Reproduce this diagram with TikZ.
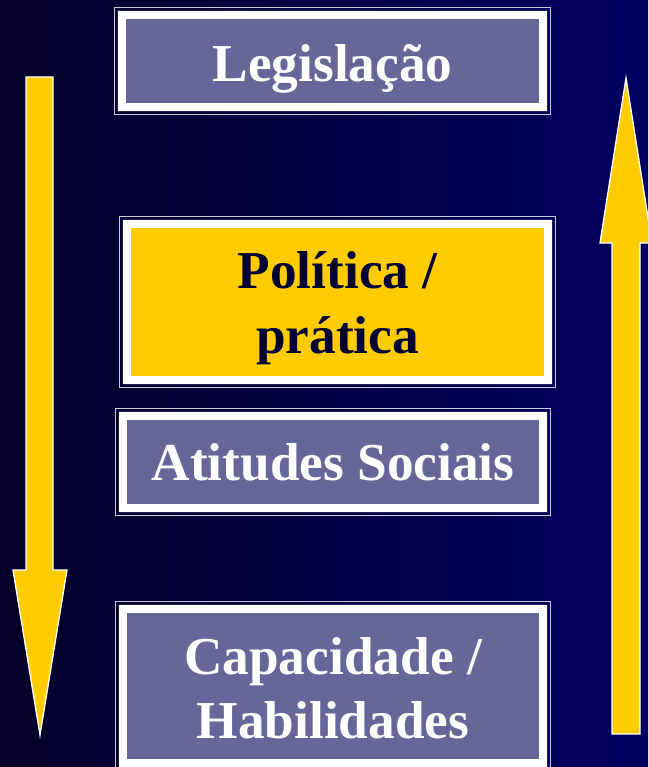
\documentclass[tikz,border=0pt]{standalone}
\usepackage{fontspec}
\setmainfont{Liberation Serif}
\definecolor{bgleft}{RGB}{4,0,40}
\definecolor{bgright}{RGB}{2,0,96}
\definecolor{boxpurple}{RGB}{102,102,153}
\definecolor{boxgold}{RGB}{255,204,0}
\definecolor{inkdark}{RGB}{0,0,51}
\definecolor{frameline}{RGB}{200,200,215}
\tikzset{
  panel/.style={fill=#1, draw=none, inner sep=0pt},
  lbl/.style={font=\fontsize{53.3}{63}\selectfont\bfseries, anchor=base, inner sep=0pt, text=white},
  arrowbody/.style={fill=boxgold, draw=white, line width=1.3pt, line join=miter},
}
\newcommand\panelframe[1]{%
  \fill[white, even odd rule] ([xshift=-8pt,yshift=8pt]#1.north west) rectangle ([xshift=8pt,yshift=-8pt]#1.south east)
       (#1.north west) rectangle (#1.south east);
  \draw[frameline, line width=1.3pt] ([xshift=-11pt,yshift=11pt]#1.north west) rectangle ([xshift=11pt,yshift=-11pt]#1.south east);
}
\begin{document}
\begin{tikzpicture}[x=1pt,y=-1pt]
\useasboundingbox (0,0) rectangle (648,767);
\clip (0,0) rectangle (648,767);
\shade[left color=bgleft, right color=bgright] (0,0) rectangle (648,767);

% panels
\node[panel=boxpurple, minimum width=413pt, minimum height=84pt] (leg) at (332.5,61) {};
\node[panel=boxgold, minimum width=413pt, minimum height=148pt] (pol) at (337.5,302) {};
\node[panel=boxpurple, minimum width=412pt, minimum height=84pt] (ati) at (333,462) {};
\node[panel=boxpurple, minimum width=412pt, minimum height=146pt] (cap) at (333,686) {};
\panelframe{leg}
\panelframe{pol}
\panelframe{ati}
\panelframe{cap}

% texts
\node[lbl] (legt) at (332.5,82) {Legislação};
\node[lbl, text=inkdark] (pol1) at (337.5,288) {Política /};
\node[lbl, text=inkdark] (pol2) at (337.5,353) {prática};
\node[lbl] (atit) at (333,480) {Atitudes Sociais};
\node[lbl] (cap1) at (333,674) {Capacidade /};
\node[lbl] (cap2) at (333,738) {Habilidades};

% arrows
\draw[arrowbody] (26,77) -- (53,77) -- (53,570) -- (67,570) -- (40,735) -- (13,570) -- (26,570) -- cycle;
\draw[arrowbody] (626,78) -- (652,243) -- (640,243) -- (640,734) -- (612,734) -- (612,243) -- (600,243) -- cycle;
\end{tikzpicture}
\end{document}
